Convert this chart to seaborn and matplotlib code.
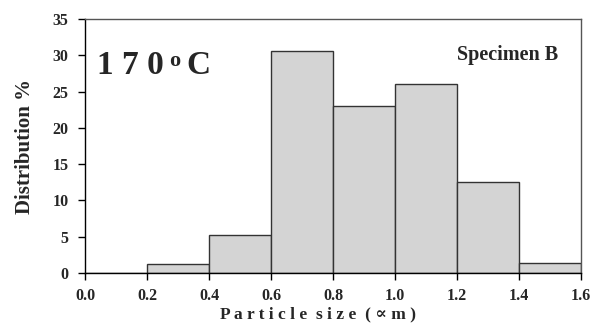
import matplotlib
matplotlib.use("Agg")
import matplotlib.pyplot as plt
import seaborn as sns
import numpy as np

bin_edges = [0.0, 0.2, 0.4, 0.6, 0.8, 1.0, 1.2, 1.4, 1.6]
distribution = [0.0, 1.3, 5.2, 30.6, 23.0, 26.0, 12.5, 1.4]
x_ticks = [0.0, 0.2, 0.4, 0.6, 0.8, 1.0, 1.2, 1.4, 1.6]
x_tick_labels = ["0.0", "0.2", "0.4", "0.6", "0.8", "1.0", "1.2", "1.4", "1.6"]
y_ticks = [0, 5, 10, 15, 20, 25, 30, 35]

sns.set_theme(style="white")
FAM = ['Liberation Serif', 'DejaVu Serif', 'DejaVu Sans']
plt.rcParams['font.family'] = FAM
plt.rcParams['font.weight'] = 'bold'

fig = plt.figure(figsize=(5.91, 3.23), dpi=100)
ax = fig.add_axes([85/591, 1 - 273/323, (581-85)/591, (273-19)/323])

centers = [(bin_edges[i] + bin_edges[i+1]) / 2 for i in range(len(distribution))]
sns.histplot(x=centers, weights=distribution, bins=bin_edges, ax=ax,
             color="#d4d4d4", edgecolor="#333333", linewidth=1.0, alpha=1.0)

ax.set_xlim(0, 1.6)
ax.set_ylim(0, 35)
ax.set_xticks(x_ticks)
ax.set_xticklabels(x_tick_labels, fontsize=11.5, fontweight='bold')
ax.set_yticks(y_ticks)
ax.set_yticklabels([str(v) for v in y_ticks], fontsize=11.5, fontweight='bold')
ax.tick_params(axis='x', direction='out', length=5, width=1, color='black', pad=6, bottom=True)
ax.tick_params(axis='y', direction='out', length=5, width=1, color='black', pad=7, left=True)
for s in ax.spines.values():
    s.set_color('#555555')
    s.set_linewidth(1.0)
ax.spines['bottom'].set_color('black')
ax.spines['left'].set_color('black')
ax.set_xlabel("")
ax.set_ylabel("")

xlabel = "Particle size (\u221dm)"
xlabel_spaced = "  ".join(" ".join(list(w)) for w in xlabel.split(" "))
fig.text(318/591, 5/323, xlabel_spaced, fontsize=12.5, fontweight='bold',
         ha='center', va='baseline')
fig.text(25/591, 1 - 146/323, "Distribution %", fontsize=15, fontweight='bold',
         rotation=90, ha='center', va='center')

ax.text((97-85)/496, 0.783, "1 7 0", transform=ax.transAxes, fontsize=24,
        fontweight='bold', ha='left', va='baseline')
ax.text((169-85)/496, 0.815, "o", transform=ax.transAxes, fontsize=16, fontweight='bold',
        ha='left', va='baseline')
ax.text((186-85)/496, 0.783, "C", transform=ax.transAxes, fontsize=24, fontweight='bold',
        ha='left', va='baseline')
ax.text(0.954, 0.839, "Specimen B", transform=ax.transAxes, fontsize=14.5, fontweight='bold',
        ha='right', va='baseline')

fig.savefig("out.png", dpi=100)
